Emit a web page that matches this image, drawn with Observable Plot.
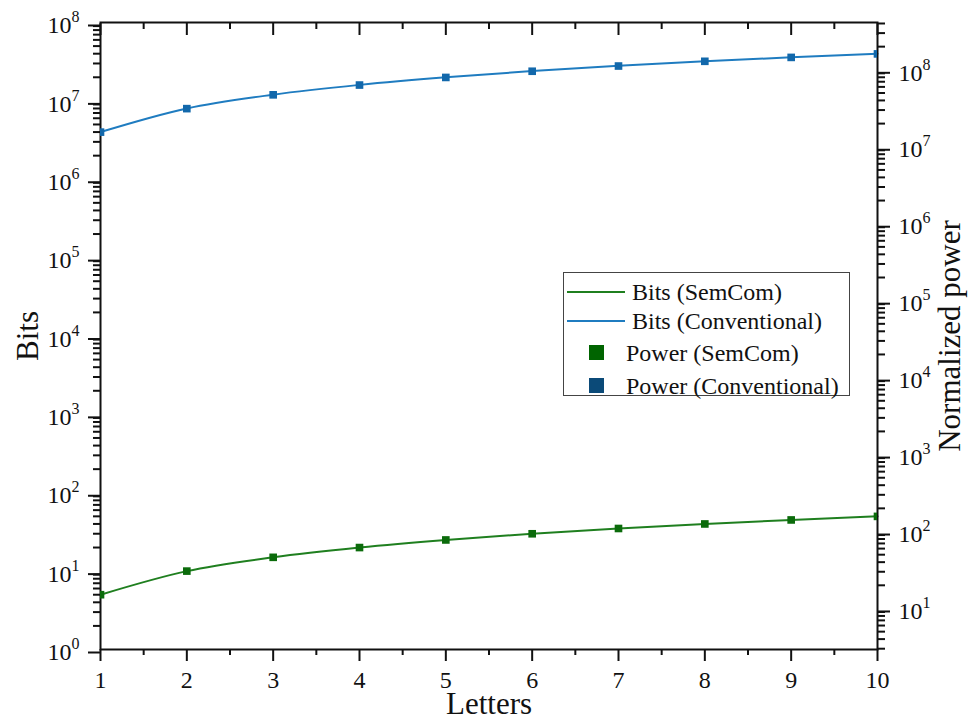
<!DOCTYPE html>
<html>
<head>
<meta charset="utf-8">
<script src="https://cdn.jsdelivr.net/npm/d3@7"></script>
<script src="https://cdn.jsdelivr.net/npm/@observablehq/plot@0.6"></script>
<style>
  html, body { margin: 0; padding: 0; background: #fff; }
  #chart { position: relative; width: 971px; height: 719px; font-family: "Liberation Serif", "Times New Roman", serif; }
  #legend { position: absolute; left: 563px; top: 272px; width: 287px; height: 124px; border: 1.5px solid #444; background: #fff; box-sizing: border-box; }
  .row { position: absolute; left: 0; height: 30px; width: 100%; }
  .row .sw-line { position: absolute; left: 3px; width: 58px; top: 14px; height: 2px; }
  .row .sw-box { position: absolute; left: 25px; width: 15px; height: 15px; top: 7px; }
  .row span { position: absolute; top: 0; line-height: 30px; font-size: 24px; color: #111; white-space: nowrap; }
</style>
</head>
<body>
<div id="chart"></div>
<script>
// Number of letters in the message
const letters = [1, 2, 3, 4, 5, 6, 7, 8, 9, 10];
// Bits needed to transmit the message (left axis)
const bitsSemCom = [5, 10, 15, 20, 25, 30, 35, 40, 45, 50];
const bitsConventional = [4e6, 8e6, 1.2e7, 1.6e7, 2e7, 2.4e7, 2.8e7, 3.2e7, 3.6e7, 4e7];
// Normalized transmit power (right axis)
const powerSemCom = [15.1, 30.6, 46.2, 61.9, 77.7, 93.5, 109.5, 125.4, 141.4, 157.3];
const powerConventional = [1.55e7, 3.13e7, 4.73e7, 6.34e7, 7.96e7, 9.58e7, 1.12e8, 1.29e8, 1.45e8, 1.61e8];

// Axis ticks
const letterTicks = letters;
const letterMinorTicks = [1.5, 2.5, 3.5, 4.5, 5.5, 6.5, 7.5, 8.5, 9.5];
const bitsDecades = [1, 10, 1e2, 1e3, 1e4, 1e5, 1e6, 1e7, 1e8];
const powerDecades = [10, 1e2, 1e3, 1e4, 1e5, 1e6, 1e7, 1e8];
const bitsDomain = [1, 1e8];
const powerDomain = [2.93, 4.12e8];

const minorsOf = (domain) => {
  const out = [];
  for (let e = -1; e <= 9; e++) {
    for (let m = 2; m <= 9; m++) {
      const v = m * 10 ** e;
      if (v > domain[0] && v < domain[1]) out.push(v);
    }
  }
  return out;
};

const colors = {
  bitsSemCom: "#1f7f1f",
  bitsConventional: "#1f7cc0",
  powerSemCom: "#0b6b0b",
  powerConventional: "#1268ab",
  legendPowerSemCom: "#006400",
  legendPowerConventional: "#0b4a78"
};

const W = 971, H = 719;
const margins = { marginLeft: 100, marginRight: 94, marginTop: 22, marginBottom: 70 };
const decadeFormat = (d) => `10^${Math.round(Math.log10(d))}`;
const titleSize = 31;
const tickSizePx = 24;
const supSizePx = 16;

const bitsRows = letters.map((n, i) => ({ n, semcom: bitsSemCom[i], conventional: bitsConventional[i] }));
const powerRows = letters.map((n, i) => ({ n, semcom: powerSemCom[i], conventional: powerConventional[i] }));

const baseStyle = { position: "absolute", left: "0px", top: "0px", fontFamily: "'Liberation Serif', 'Times New Roman', serif", fontSize: "24px", color: "#111", background: "transparent", overflow: "visible" };

// Bits: left axis, x axes, curves
const bitsPlot = Plot.plot({
  width: W, height: H, ...margins,
  style: { ...baseStyle, background: "#fff" },
  x: { domain: [1, 10], label: null },
  y: { type: "log", domain: bitsDomain, label: null },
  marks: [
    Plot.line(bitsRows, { x: "n", y: "semcom", stroke: colors.bitsSemCom, strokeWidth: 2, curve: "monotone-x" }),
    Plot.line(bitsRows, { x: "n", y: "conventional", stroke: colors.bitsConventional, strokeWidth: 2, curve: "monotone-x" }),
    Plot.axisY({ anchor: "left", ticks: minorsOf(bitsDomain), tickSize: 7, tickFormat: () => "", strokeWidth: 2, label: null }),
    Plot.axisY({ anchor: "left", ticks: bitsDecades, tickSize: 12, tickPadding: 9, tickFormat: decadeFormat, strokeWidth: 2, dy: 3, label: null }),
    Plot.axisX({ anchor: "bottom", ticks: letterMinorTicks, tickSize: 6, tickFormat: () => "", strokeWidth: 2, label: null }),
    Plot.axisX({ anchor: "bottom", ticks: letterTicks, tickSize: 12, tickPadding: 9, tickFormat: (d) => String(d), strokeWidth: 2, label: null }),
    Plot.axisX({ anchor: "top", ticks: letterMinorTicks, tickSize: -6, tickFormat: () => "", strokeWidth: 2, label: null }),
    Plot.axisX({ anchor: "top", ticks: letterTicks, tickSize: -12, tickFormat: () => "", strokeWidth: 2, label: null }),
    Plot.frame({ stroke: "#111", strokeWidth: 2 }),
    Plot.text(["Bits"], { frameAnchor: "left", textAnchor: "middle", rotate: -90, dx: -72, lineAnchor: "middle", fontSize: titleSize, fill: "#111" }),
    Plot.text(["Letters"], { frameAnchor: "bottom", textAnchor: "middle", dy: 55, lineAnchor: "middle", fontSize: titleSize, fill: "#111" })
  ]
});

// Power: right axis and square markers
const powerPlot = Plot.plot({
  width: W, height: H, ...margins,
  style: baseStyle,
  x: { domain: [1, 10], axis: null },
  y: { type: "log", domain: powerDomain, label: null },
  marks: [
    Plot.dot(powerRows, { x: "n", y: "semcom", symbol: "square", r: 4.3, fill: colors.powerSemCom, stroke: "none", clip: true }),
    Plot.dot(powerRows, { x: "n", y: "conventional", symbol: "square", r: 4.3, fill: colors.powerConventional, stroke: "none", clip: true }),
    Plot.axisY({ anchor: "right", ticks: minorsOf(powerDomain), tickSize: 7, tickFormat: () => "", strokeWidth: 2, label: null }),
    Plot.axisY({ anchor: "right", ticks: powerDecades, tickSize: 12, tickPadding: 9, tickFormat: decadeFormat, strokeWidth: 2, dy: 3, label: null }),
    Plot.text(["Normalized power"], { frameAnchor: "right", textAnchor: "middle", rotate: -90, dx: 73, lineAnchor: "middle", fontSize: titleSize, fill: "#111" })
  ]
});

// Size the tick labels and turn "10^k" into a base with a raised exponent
function styleTickLabels(svg) {
  const ns = "http://www.w3.org/2000/svg";
  svg.querySelectorAll("text").forEach((t) => {
    const s = t.textContent;
    const m = s.match(/^10\^(-?\d+)$/);
    const isLetter = /^\d+$/.test(s);
    if (!m && !isLetter) return;
    t.setAttribute("font-size", tickSizePx);
    t.style.fontSize = tickSizePx + "px";
    t.style.fill = "#111";
    if (!m) return;
    t.textContent = "10";
    const sup = document.createElementNS(ns, "tspan");
    sup.setAttribute("dy", "-11");
    sup.setAttribute("font-size", supSizePx);
    sup.style.fontSize = supSizePx + "px";
    sup.textContent = m[1];
    t.appendChild(sup);
  });
}
styleTickLabels(bitsPlot);
styleTickLabels(powerPlot);

const chart = document.getElementById("chart");
chart.appendChild(bitsPlot);
chart.appendChild(powerPlot);

// Legend
const legendItems = [
  { label: "Bits (SemCom)", kind: "line", color: colors.bitsSemCom },
  { label: "Bits (Conventional)", kind: "line", color: colors.bitsConventional },
  { label: "Power (SemCom)", kind: "box", color: colors.legendPowerSemCom },
  { label: "Power (Conventional)", kind: "box", color: colors.legendPowerConventional }
];
const legend = document.createElement("div");
legend.id = "legend";
const rowTops = [4, 33, 65, 98];
legendItems.forEach((item, i) => {
  const row = document.createElement("div");
  row.className = "row";
  row.style.top = rowTops[i] + "px";
  const sw = document.createElement("div");
  sw.className = item.kind === "line" ? "sw-line" : "sw-box";
  sw.style.background = item.color;
  const txt = document.createElement("span");
  txt.textContent = item.label;
  txt.style.left = item.kind === "line" ? "68px" : "62px";
  row.appendChild(sw);
  row.appendChild(txt);
  legend.appendChild(row);
});
chart.appendChild(legend);
</script>
</body>
</html>
